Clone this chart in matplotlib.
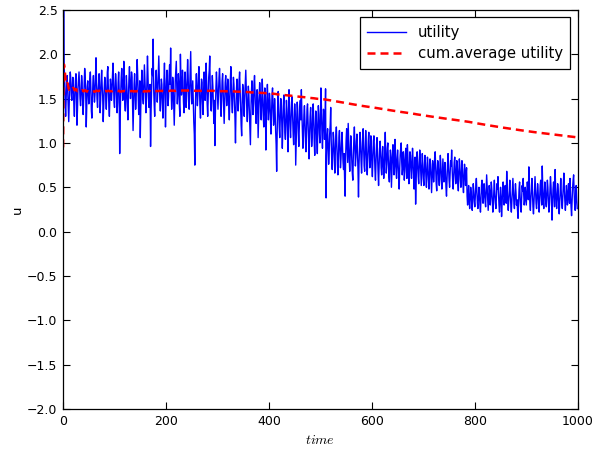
import numpy as np
import matplotlib.pyplot as plt

plt.rcParams['mathtext.fontset'] = 'cm'

# utility readings, one per time step, in blocks of 100
u_000 = [0.95, 2.80, 1.90, 1.72, 1.45, 1.30, 1.52, 1.70, 1.76, 1.58,
         1.40, 1.24, 1.46, 1.68, 1.80, 1.72, 1.54, 1.48, 1.62, 1.74,
         1.66, 1.42, 1.30, 1.50, 1.70, 1.78, 1.60, 1.20, 1.38, 1.62,
         1.72, 1.80, 1.64, 1.50, 1.42, 1.56, 1.76, 1.68, 1.46, 1.32,
         1.48, 1.66, 1.84, 1.74, 1.56, 1.18, 1.40, 1.64, 1.70, 1.58,
         1.44, 1.52, 1.72, 1.80, 1.62, 1.36, 1.28, 1.50, 1.68, 1.76,
         1.60, 1.46, 1.54, 1.74, 1.96, 1.70, 1.50, 1.40, 1.58, 1.66,
         1.78, 1.62, 1.34, 1.48, 1.70, 1.82, 1.64, 1.52, 1.24, 1.44,
         1.62, 1.74, 1.68, 1.50, 1.38, 1.56, 1.80, 1.86, 1.60, 1.42,
         1.30, 1.54, 1.72, 1.64, 1.48, 1.58, 1.76, 1.90, 1.66, 1.46]
u_100 = [1.40, 1.62, 1.78, 1.70, 1.52, 1.34, 1.46, 1.68, 1.80, 1.60,
         0.88, 1.30, 1.56, 1.74, 1.84, 1.66, 1.48, 1.58, 1.92, 1.70,
         1.44, 1.36, 1.54, 1.76, 1.62, 1.40, 1.26, 1.52, 1.72, 1.86,
         1.68, 1.50, 1.60, 1.80, 1.74, 1.46, 1.14, 1.42, 1.66, 1.78,
         1.58, 1.38, 1.50, 1.72, 1.94, 1.76, 1.54, 1.32, 1.48, 1.70,
         1.06, 1.40, 1.62, 1.82, 1.68, 1.50, 1.44, 1.64, 1.88, 1.72,
         1.56, 1.34, 1.48, 1.70, 1.98, 1.74, 1.52, 1.40, 1.58, 1.66,
         0.96, 1.36, 1.60, 1.84, 1.76, 2.17, 1.62, 1.44, 1.30, 1.56,
         1.74, 1.82, 1.64, 1.46, 1.58, 1.78, 1.98, 1.70, 1.48, 1.36,
         1.52, 1.72, 1.66, 1.44, 1.28, 1.50, 1.76, 1.90, 1.62, 1.18]
u_200 = [1.48, 1.70, 1.82, 1.64, 1.42, 1.52, 1.76, 1.88, 1.66, 2.07,
         1.60, 1.38, 1.50, 1.74, 1.66, 1.44, 1.20, 1.46, 1.70, 1.80,
         1.92, 1.62, 1.44, 1.56, 1.78, 1.68, 1.42, 1.30, 2.00, 1.72,
         1.54, 1.60, 1.82, 1.70, 1.46, 1.34, 1.58, 1.80, 1.66, 1.40,
         1.50, 1.72, 1.94, 1.76, 1.52, 1.38, 1.60, 1.84, 2.03, 1.62,
         1.44, 1.56, 1.70, 1.48, 1.24, 1.10, 0.75, 1.36, 1.64, 1.78,
         1.60, 1.42, 1.54, 1.76, 1.86, 1.64, 1.40, 1.28, 1.52, 1.72,
         1.68, 1.46, 1.32, 1.58, 1.80, 1.70, 1.48, 1.62, 1.90, 1.66,
         1.44, 1.30, 1.52, 1.74, 1.82, 1.98, 1.60, 1.40, 1.36, 1.56,
         1.76, 1.64, 1.42, 1.22, 1.48, 0.97, 1.34, 1.62, 1.80, 1.66]
u_300 = [1.50, 1.38, 1.56, 1.74, 1.84, 1.66, 1.44, 1.30, 1.48, 1.70,
         1.78, 1.58, 1.36, 1.22, 1.46, 1.68, 1.76, 1.60, 1.42, 1.54,
         1.72, 1.64, 1.40, 1.26, 1.50, 1.70, 1.86, 1.62, 1.44, 1.34,
         1.56, 1.74, 1.66, 1.46, 1.28, 1.00, 1.38, 1.62, 1.72, 1.54,
         1.36, 1.48, 1.70, 1.80, 1.58, 1.40, 1.20, 1.08, 1.44, 1.66,
         1.60, 1.42, 1.30, 1.52, 1.68, 1.82, 1.60, 1.38, 1.24, 1.46,
         1.64, 1.54, 1.34, 1.12, 0.98, 1.36, 1.58, 1.70, 1.50, 1.32,
         1.44, 1.66, 1.76, 1.56, 1.36, 1.22, 1.42, 1.60, 1.48, 1.06,
         1.30, 1.52, 1.68, 1.58, 1.38, 1.26, 1.46, 1.72, 1.54, 1.30,
         1.18, 1.40, 1.62, 1.52, 0.92, 1.24, 1.48, 1.66, 1.44, 1.26]
u_400 = [1.38, 1.56, 1.48, 1.26, 1.10, 1.32, 1.54, 1.62, 1.40, 1.20,
         1.28, 1.50, 1.36, 1.14, 0.98, 0.68, 1.12, 1.42, 1.58, 1.36,
         1.18, 1.06, 1.30, 1.50, 1.44, 1.22, 0.94, 1.16, 1.42, 1.54,
         1.34, 1.12, 1.04, 1.28, 1.48, 1.38, 1.14, 0.90, 1.30, 1.60,
         1.40, 1.18, 1.06, 1.26, 1.46, 1.52, 1.30, 1.10, 0.98, 1.22,
         1.44, 1.32, 0.75, 1.04, 1.28, 1.46, 1.36, 1.12, 0.96, 1.20,
         1.40, 1.48, 1.26, 1.60, 1.34, 1.14, 0.94, 1.08, 1.32, 1.42,
         1.24, 1.02, 0.90, 1.16, 1.38, 1.44, 1.22, 1.04, 0.82, 1.10,
         1.30, 1.40, 1.18, 0.96, 1.06, 1.34, 1.44, 1.26, 1.02, 0.86,
         1.14, 1.36, 1.28, 1.04, 0.88, 1.20, 1.42, 1.32, 1.10, 1.00]
u_500 = [1.24, 1.62, 1.40, 1.10, 0.94, 1.16, 1.38, 1.30, 1.04, 1.22,
         1.61, 0.38, 0.86, 1.08, 1.16, 0.94, 0.76, 0.88, 1.10, 1.20,
         1.40, 1.02, 0.80, 0.70, 0.92, 1.12, 1.04, 0.84, 0.66, 0.90,
         1.08, 1.18, 0.96, 0.76, 0.64, 0.86, 1.06, 1.14, 0.92, 0.72,
         0.82, 1.00, 1.12, 0.94, 0.78, 0.70, 0.88, 0.60, 0.40, 0.84,
         1.04, 1.16, 0.96, 0.78, 1.22, 1.00, 0.82, 0.68, 0.90, 1.08,
         0.98, 0.80, 0.66, 0.58, 0.86, 1.04, 1.18, 0.94, 0.74, 0.84,
         1.02, 1.10, 0.88, 0.70, 0.39, 0.76, 0.96, 1.12, 1.00, 0.80,
         0.66, 0.88, 1.06, 1.16, 0.94, 0.74, 0.68, 0.92, 1.14, 0.98,
         0.78, 0.64, 0.84, 1.02, 1.12, 0.90, 0.72, 0.80, 1.08, 0.96]
u_600 = [0.76, 0.62, 0.84, 1.02, 1.08, 0.88, 0.70, 0.58, 0.80, 0.98,
         1.06, 0.86, 0.68, 0.52, 0.74, 0.94, 1.02, 0.90, 0.72, 0.64,
         0.82, 0.96, 0.78, 0.60, 0.70, 0.92, 1.12, 0.86, 0.66, 0.76,
         0.94, 1.00, 0.80, 0.62, 0.56, 0.78, 0.92, 0.84, 0.50, 0.70,
         0.88, 0.98, 0.80, 0.64, 0.74, 1.04, 0.86, 0.68, 0.60, 0.82,
         0.92, 0.76, 0.62, 0.48, 0.70, 0.86, 0.94, 1.00, 0.78, 0.64,
         0.72, 0.90, 0.80, 0.58, 0.68, 0.88, 0.94, 0.74, 0.60, 0.98,
         0.84, 0.66, 0.54, 0.72, 0.90, 0.86, 0.68, 0.60, 0.78, 0.94,
         0.80, 0.62, 0.48, 0.70, 0.84, 0.31, 0.58, 0.76, 0.90, 0.78,
         0.62, 0.54, 0.74, 0.92, 0.82, 0.66, 0.52, 0.72, 0.88, 0.76]
u_700 = [0.60, 0.52, 0.70, 0.86, 0.78, 0.62, 0.50, 0.66, 0.84, 0.74,
         0.58, 0.48, 0.64, 0.82, 0.76, 0.60, 0.44, 0.62, 0.80, 0.72,
         0.56, 0.66, 0.84, 0.90, 0.70, 0.54, 0.46, 0.68, 0.80, 0.74,
         0.60, 0.52, 0.70, 0.86, 0.76, 0.58, 0.48, 0.64, 0.82, 0.70,
         0.56, 0.62, 0.78, 0.68, 0.50, 0.40, 0.60, 0.76, 0.88, 0.72,
         0.58, 0.50, 0.66, 0.80, 0.74, 0.92, 0.70, 0.56, 0.48, 0.64,
         0.78, 0.84, 0.66, 0.54, 0.62, 0.80, 0.72, 0.56, 0.46, 0.68,
         0.82, 0.74, 0.58, 0.50, 0.64, 0.80, 0.70, 0.54, 0.44, 0.62,
         0.76, 0.68, 0.52, 0.64, 0.72, 0.40, 0.30, 0.42, 0.52, 0.36,
         0.26, 0.38, 0.50, 0.44, 0.30, 0.24, 0.40, 0.54, 0.46, 0.34]
u_800 = [0.28, 0.40, 0.52, 0.60, 0.46, 0.32, 0.26, 0.38, 0.50, 0.42,
         0.30, 0.22, 0.36, 0.52, 0.58, 0.44, 0.32, 0.40, 0.54, 0.46,
         0.34, 0.28, 0.46, 0.64, 0.50, 0.36, 0.24, 0.38, 0.52, 0.44,
         0.30, 0.40, 0.56, 0.48, 0.34, 0.22, 0.30, 0.46, 0.58, 0.42,
         0.32, 0.26, 0.40, 0.54, 0.48, 0.62, 0.44, 0.30, 0.22, 0.36,
         0.50, 0.38, 0.17, 0.32, 0.46, 0.56, 0.42, 0.30, 0.38, 0.52,
         0.44, 0.32, 0.68, 0.48, 0.34, 0.24, 0.36, 0.50, 0.58, 0.42,
         0.30, 0.22, 0.34, 0.48, 0.60, 0.46, 0.32, 0.26, 0.40, 0.54,
         0.44, 0.30, 0.36, 0.24, 0.15, 0.32, 0.48, 0.56, 0.40, 0.28,
         0.22, 0.38, 0.52, 0.46, 0.60, 0.42, 0.30, 0.36, 0.50, 0.40]
u_900 = [0.30, 0.42, 0.56, 0.48, 0.36, 0.73, 0.46, 0.32, 0.24, 0.38,
         0.52, 0.60, 0.44, 0.28, 0.20, 0.34, 0.50, 0.62, 0.46, 0.32,
         0.26, 0.40, 0.54, 0.46, 0.30, 0.22, 0.36, 0.52, 0.58, 0.42,
         0.30, 0.74, 0.50, 0.34, 0.26, 0.40, 0.56, 0.48, 0.32, 0.28,
         0.44, 0.58, 0.50, 0.34, 0.22, 0.30, 0.46, 0.62, 0.52, 0.36,
         0.13, 0.30, 0.48, 0.56, 0.42, 0.28, 0.70, 0.50, 0.36, 0.26,
         0.38, 0.54, 0.46, 0.30, 0.20, 0.34, 0.50, 0.60, 0.44, 0.32,
         0.26, 0.40, 0.56, 0.66, 0.48, 0.34, 0.24, 0.36, 0.52, 0.44,
         0.30, 0.38, 0.54, 0.46, 0.32, 0.60, 0.42, 0.28, 0.18, 0.34,
         0.50, 0.58, 0.64, 0.44, 0.30, 0.24, 0.40, 0.52, 0.36, 0.26]

x_ticks = [0, 200, 400, 600, 800, 1000]
y_ticks = [-2.0, -1.5, -1.0, -0.5, 0.0, 0.5, 1.0, 1.5, 2.0, 2.5]

u = np.array(u_000 + u_100 + u_200 + u_300 + u_400 +
             u_500 + u_600 + u_700 + u_800 + u_900)
t = np.arange(len(u))
cum_avg = np.cumsum(u) / (t + 1)

fig = plt.figure(figsize=(5.95, 4.49), dpi=100)
ax = fig.add_axes([0.106, 0.089, 0.865, 0.889])

ax.plot(t, u, color='#0000ff', lw=1.0, label='utility')
ax.plot(t, cum_avg, color='#ff0000', lw=1.8, dashes=(3.2, 2.0),
        label='cum.average utility')

ax.set_xlim(0, 1000)
ax.set_ylim(-2.0, 2.5)
ax.set_xticks(x_ticks)
ax.set_yticks(y_ticks)
ax.set_yticklabels([f'{v:.1f}'.replace('-', '\u2212') for v in y_ticks])
ax.tick_params(direction='in', top=True, right=True, length=5,
               labelsize=9, pad=4)
for s in ax.spines.values():
    s.set_linewidth(0.9)

ax.set_xlabel('$time$', fontsize=10)
ax.set_ylabel('u', fontsize=9.5, labelpad=2)

leg = ax.legend(loc='upper right', fontsize=10.7, fancybox=False,
                framealpha=1, edgecolor='black', handlelength=2.6,
                borderpad=0.5, labelspacing=0.45, borderaxespad=0.5)
leg.get_frame().set_linewidth(0.9)

fig.savefig('out.png', dpi=100)
